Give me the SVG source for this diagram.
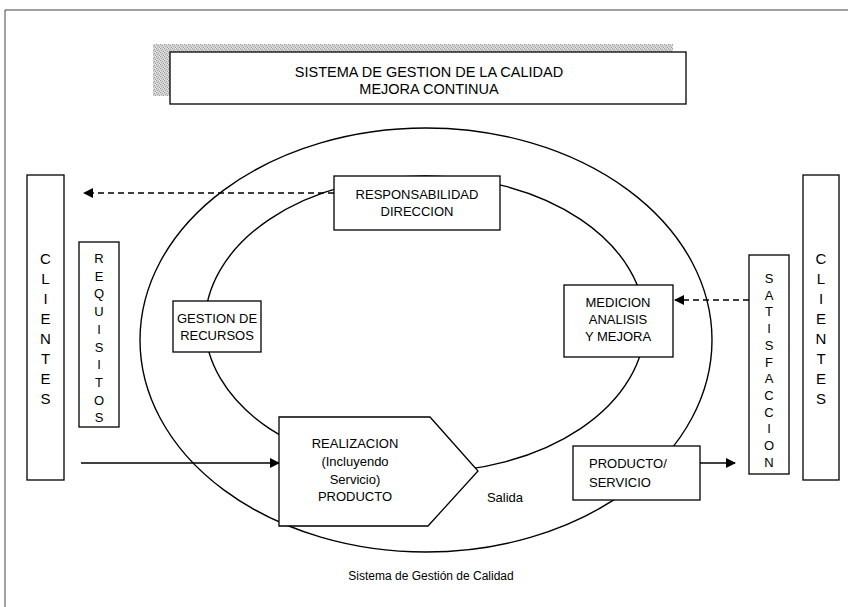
<svg xmlns="http://www.w3.org/2000/svg" width="848" height="607" viewBox="0 0 848 607">
  <defs>
    <marker id="arrow" viewBox="0 0 10 10" refX="9" refY="5" markerWidth="10" markerHeight="10" markerUnits="userSpaceOnUse" orient="auto">
      <path d="M0,0 L10,5 L0,10 z" fill="#000"/>
    </marker>
    <!-- fine grey grain used for the title shadow -->
    <pattern id="stipple" width="4" height="4" patternUnits="userSpaceOnUse">
      <rect width="4" height="4" fill="#d2d2d2"/>
      <rect x="0" y="0" width="1" height="1" fill="#9a9a9a"/>
      <rect x="2" y="1" width="1" height="1" fill="#a8a8a8"/>
      <rect x="1" y="2" width="1" height="1" fill="#b0b0b0"/>
      <rect x="3" y="3" width="1" height="1" fill="#9e9e9e"/>
      <rect x="3" y="0" width="1" height="1" fill="#e8e8e8"/>
      <rect x="0" y="3" width="1" height="1" fill="#e4e4e4"/>
    </pattern>
  </defs>
  <style>
    text { font-family: "Liberation Sans", Arial, sans-serif; fill: #000; }
    .box { fill: #fff; stroke: #000; stroke-width: 1.3; }
    .ring { fill: none; stroke: #000; stroke-width: 1.4; }
    .lbl { font-size: 13px; text-anchor: middle; }
    .vert { font-size: 15px; text-anchor: middle; }
    .vsmall { font-size: 13px; text-anchor: middle; }
    .dash { stroke: #000; stroke-width: 1.4; stroke-dasharray: 6 4; fill: none; }
    .solid { stroke: #000; stroke-width: 1.4; fill: none; }
  </style>

  <rect width="848" height="607" fill="#fff"/>
  <!-- page frame -->
  <path d="M5,607 V10 H848" fill="none" stroke="#444" stroke-width="1"/>

  <!-- title with shadow -->
  <g id="titulo">
    <rect x="153" y="44" width="520" height="52" fill="url(#stipple)"/>
    <rect class="box" x="170" y="52" width="516" height="52"/>
    <text x="429" y="77" font-size="14.5" text-anchor="middle">SISTEMA DE GESTION DE LA CALIDAD</text>
    <text x="429" y="94" font-size="14.5" text-anchor="middle">MEJORA CONTINUA</text>
  </g>

  <!-- process rings -->
  <g id="anillos">
    <ellipse class="ring" cx="426" cy="340" rx="286" ry="212"/>
    <ellipse class="ring" cx="425" cy="324" rx="220" ry="148"/>
  </g>

  <!-- connectors -->
  <g id="conectores">
    <line class="dash" x1="334" y1="193" x2="84" y2="193" marker-end="url(#arrow)"/>
    <line class="dash" x1="749" y1="300" x2="675" y2="300" marker-end="url(#arrow)"/>
    <line class="solid" x1="81" y1="463" x2="279" y2="463" marker-end="url(#arrow)"/>
    <line class="solid" x1="700" y1="463" x2="735" y2="463" marker-end="url(#arrow)"/>
  </g>

  <g id="clientes-izq">
    <rect class="box" x="27" y="175" width="37" height="305"/>
    <text class="vert" x="45.5"><tspan x="45.5" y="264">C</tspan><tspan x="45.5" y="284">L</tspan><tspan x="45.5" y="304">I</tspan><tspan x="45.5" y="324">E</tspan><tspan x="45.5" y="344">N</tspan><tspan x="45.5" y="364">T</tspan><tspan x="45.5" y="384">E</tspan><tspan x="45.5" y="404">S</tspan></text>
  </g>

  <g id="requisitos">
    <rect class="box" x="79" y="242" width="40" height="185"/>
    <text class="vsmall" x="99"><tspan x="99" y="263">R</tspan><tspan x="99" y="280.7">E</tspan><tspan x="99" y="298.4">Q</tspan><tspan x="99" y="316.1">U</tspan><tspan x="99" y="333.8">I</tspan><tspan x="99" y="351.5">S</tspan><tspan x="99" y="369.2">I</tspan><tspan x="99" y="386.9">T</tspan><tspan x="99" y="404.6">O</tspan><tspan x="99" y="422.3">S</tspan></text>
  </g>

  <g id="responsabilidad">
    <rect class="box" x="334" y="176" width="166" height="54"/>
    <text class="lbl" x="417" y="199">RESPONSABILIDAD</text>
    <text class="lbl" x="417" y="216">DIRECCION</text>
  </g>

  <g id="gestion-recursos">
    <rect class="box" x="173" y="301" width="88" height="51"/>
    <text class="lbl" x="217" y="323">GESTION DE</text>
    <text class="lbl" x="217" y="340">RECURSOS</text>
  </g>

  <g id="medicion">
    <rect class="box" x="564" y="285" width="109" height="72"/>
    <text class="lbl" x="618" y="307">MEDICION</text>
    <text class="lbl" x="618" y="324">ANALISIS</text>
    <text class="lbl" x="618" y="341">Y MEJORA</text>
  </g>

  <g id="realizacion">
    <path class="box" d="M279,417 H430 L478,471 L428,526 H279 Z"/>
    <text class="lbl" x="355" y="448">REALIZACION</text>
    <text class="lbl" x="355" y="466">(Incluyendo</text>
    <text class="lbl" x="355" y="484">Servicio)</text>
    <text class="lbl" x="355" y="501">PRODUCTO</text>
  </g>

  <g id="salida">
    <text class="lbl" x="505" y="502">Salida</text>
  </g>

  <g id="producto-servicio">
    <rect class="box" x="573" y="446" width="127" height="54"/>
    <text x="589" y="468" font-size="13">PRODUCTO/</text>
    <text x="589" y="487" font-size="13">SERVICIO</text>
  </g>

  <g id="satisfaccion">
    <rect class="box" x="749" y="255" width="40" height="219"/>
    <text class="vsmall" x="769"><tspan x="769" y="283">S</tspan><tspan x="769" y="299.7">A</tspan><tspan x="769" y="316.4">T</tspan><tspan x="769" y="333.1">I</tspan><tspan x="769" y="349.8">S</tspan><tspan x="769" y="366.5">F</tspan><tspan x="769" y="383.2">A</tspan><tspan x="769" y="399.9">C</tspan><tspan x="769" y="416.6">C</tspan><tspan x="769" y="433.3">I</tspan><tspan x="769" y="450">O</tspan><tspan x="769" y="466.7">N</tspan></text>
  </g>

  <g id="clientes-der">
    <rect class="box" x="803" y="175" width="36" height="305"/>
    <text class="vert" x="821"><tspan x="821" y="264">C</tspan><tspan x="821" y="284">L</tspan><tspan x="821" y="304">I</tspan><tspan x="821" y="324">E</tspan><tspan x="821" y="344">N</tspan><tspan x="821" y="364">T</tspan><tspan x="821" y="384">E</tspan><tspan x="821" y="404">S</tspan></text>
  </g>

  <g id="pie">
    <text x="431" y="580" font-size="12" text-anchor="middle">Sistema de Gestión de Calidad</text>
  </g>
</svg>
